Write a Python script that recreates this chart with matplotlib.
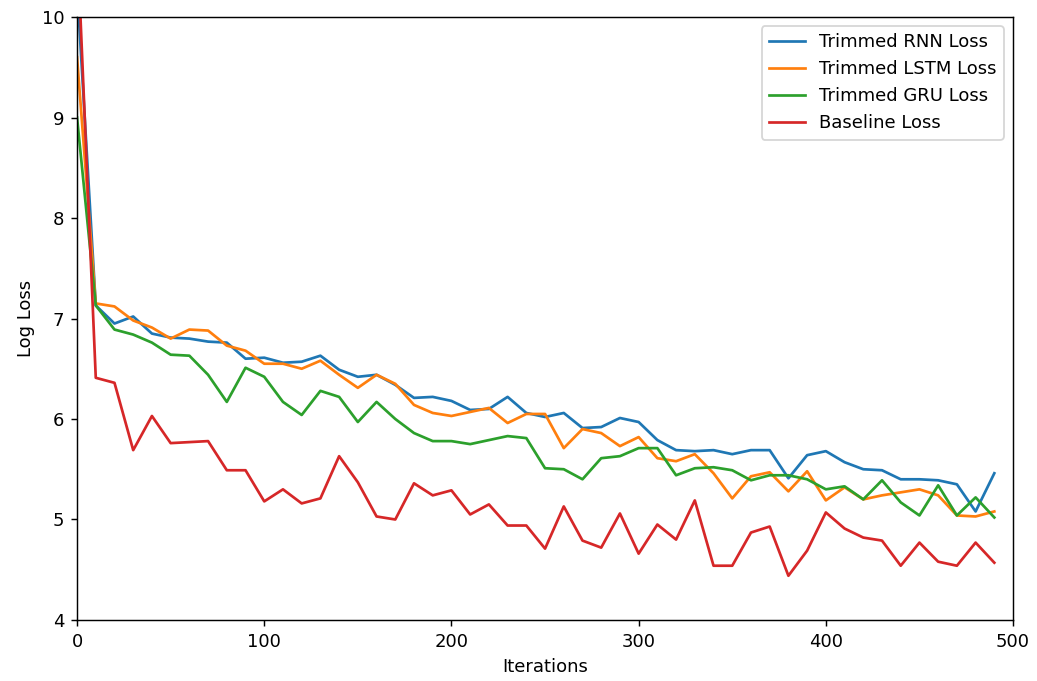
import matplotlib
matplotlib.use('Agg')
import matplotlib.pyplot as plt

# Iterations sampled every 10 steps
iterations = list(range(0, 500, 10))

rnn_loss = [10.3, 7.13, 6.95, 7.02, 6.85, 6.81, 6.80, 6.77, 6.76, 6.60,
            6.61, 6.56, 6.57, 6.63, 6.49, 6.42, 6.44, 6.34, 6.21, 6.22,
            6.18, 6.09, 6.10, 6.22, 6.06, 6.02, 6.06, 5.91, 5.92, 6.01,
            5.97, 5.79, 5.69, 5.68, 5.69, 5.65, 5.69, 5.69, 5.41, 5.64,
            5.68, 5.57, 5.50, 5.49, 5.40, 5.40, 5.39, 5.35, 5.08, 5.46]

lstm_loss = [9.6, 7.15, 7.12, 6.98, 6.91, 6.80, 6.89, 6.88, 6.73, 6.68,
             6.55, 6.55, 6.50, 6.58, 6.44, 6.31, 6.44, 6.35, 6.14, 6.06,
             6.03, 6.07, 6.11, 5.96, 6.05, 6.05, 5.71, 5.90, 5.86, 5.73,
             5.82, 5.61, 5.58, 5.65, 5.46, 5.21, 5.43, 5.47, 5.28, 5.48,
             5.19, 5.32, 5.20, 5.24, 5.27, 5.30, 5.24, 5.04, 5.03, 5.08]

gru_loss = [9.0, 7.13, 6.89, 6.84, 6.76, 6.64, 6.63, 6.44, 6.17, 6.51,
            6.42, 6.17, 6.04, 6.28, 6.22, 5.97, 6.17, 6.00, 5.86, 5.78,
            5.78, 5.75, 5.79, 5.83, 5.81, 5.51, 5.50, 5.40, 5.61, 5.63,
            5.71, 5.71, 5.44, 5.51, 5.52, 5.49, 5.39, 5.44, 5.44, 5.40,
            5.30, 5.33, 5.20, 5.39, 5.17, 5.04, 5.34, 5.04, 5.22, 5.02]

baseline_loss = [10.8, 6.41, 6.36, 5.69, 6.03, 5.76, 5.77, 5.78, 5.49, 5.49,
                 5.18, 5.30, 5.16, 5.21, 5.63, 5.37, 5.03, 5.00, 5.36, 5.24,
                 5.29, 5.05, 5.15, 4.94, 4.94, 4.71, 5.13, 4.79, 4.72, 5.06,
                 4.66, 4.95, 4.80, 5.19, 4.54, 4.54, 4.87, 4.93, 4.44, 4.69,
                 5.07, 4.91, 4.82, 4.79, 4.54, 4.77, 4.58, 4.54, 4.77, 4.57]

dpi = 130
fig = plt.figure(figsize=(1037 / dpi, 681 / dpi), dpi=dpi)
ax = fig.add_subplot(111)
fig.subplots_adjust(left=0.0743, right=0.9769, top=0.975, bottom=0.0896)

ax.plot(iterations, rnn_loss, label='Trimmed RNN Loss')
ax.plot(iterations, lstm_loss, label='Trimmed LSTM Loss')
ax.plot(iterations, gru_loss, label='Trimmed GRU Loss')
ax.plot(iterations, baseline_loss, label='Baseline Loss')

ax.set_xlim(0, 500)
ax.set_ylim(4, 10)
ax.set_xlabel('Iterations')
ax.set_ylabel('Log Loss')
ax.legend(loc='upper right')

plt.savefig('out.png', dpi=dpi)
